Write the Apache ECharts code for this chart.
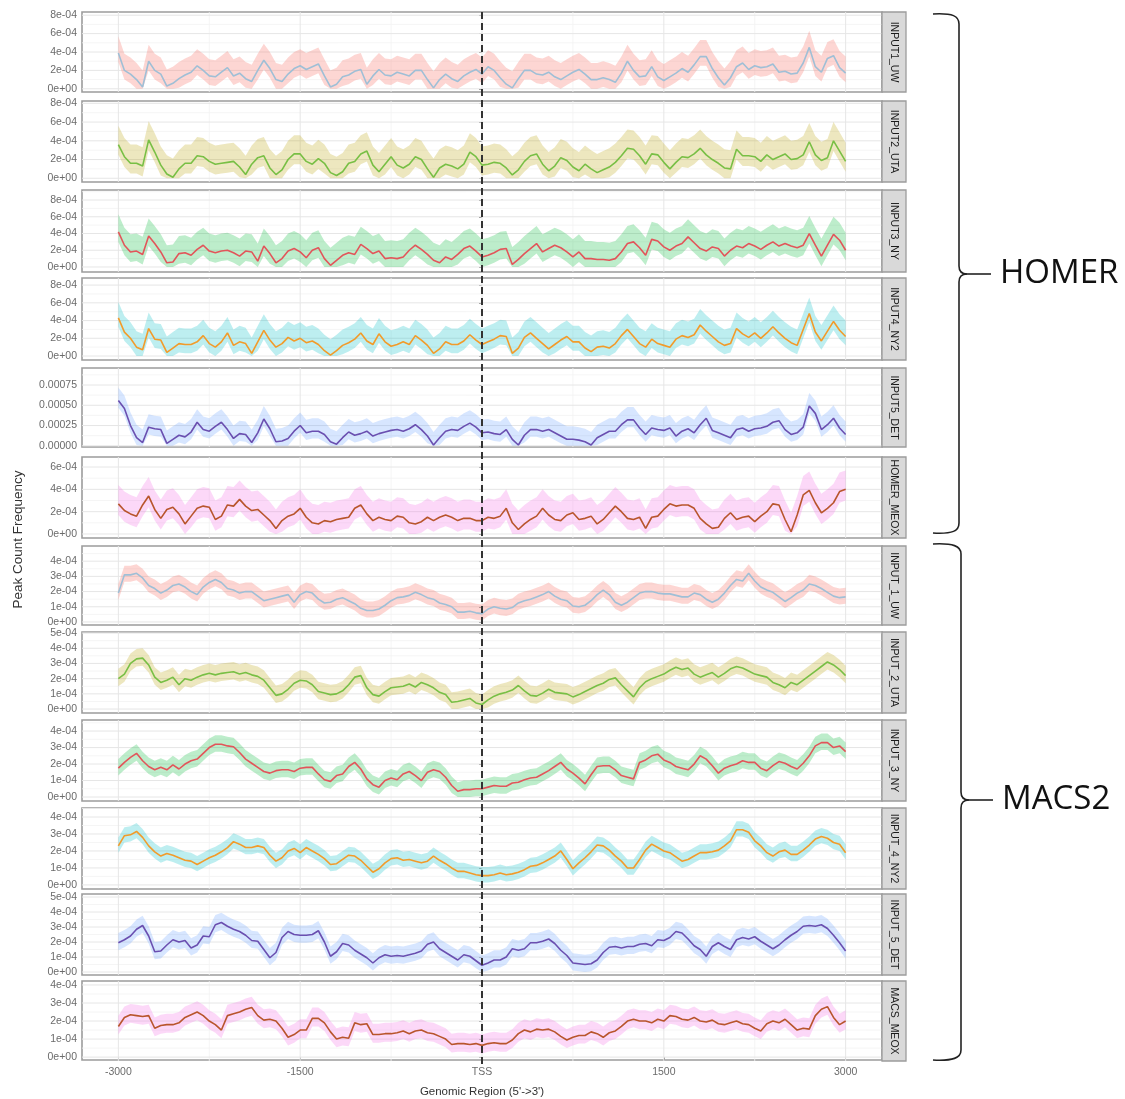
<!DOCTYPE html>
<html>
<head>
<meta charset="utf-8">
<script src="https://cdn.jsdelivr.net/npm/echarts@6/dist/echarts.min.js"></script>
<style>
  html, body { margin: 0; padding: 0; background: #fff; }
  #chart { width: 1125px; height: 1099px; }
</style>
</head>
<body>
<div id="chart"></div>
<script>
// Peak count frequency profiles around the TSS (values in units of 1e-4)
const UNIT = 1e-4;

// bin centres, -3000 .. 3000 bp every 50 bp
const positions = Array.from({ length: 121 }, (_, i) => -3000 + 50 * i);

const xTickValues = [-3000, -1500, 0, 1500, 3000];
const xMinorValues = [-2250, -750, 750, 2250];

const stripLabels = [
  'INPUT1_UW', 'INPUT2_UTA', 'INPUT3_NY', 'INPUT4_NY2', 'INPUT5_DET', 'HOMER_MEOX',
  'INPUT_1_UW', 'INPUT_2_UTA', 'INPUT_3_NY', 'INPUT_4_NY2', 'INPUT_5_DET', 'MACS_MEOX'
];

// ---- HOMER peaks ----
const homerUW = [
  3.9,2.0,1.6,1.0,0.2,3.0,2.0,1.6,0.3,0.6, 1.1,1.5,1.8,2.5,2.0,1.4,1.3,1.8,2.3,1.4,
  1.7,1.1,0.8,2.0,3.1,2.2,1.0,0.8,1.6,2.2, 2.5,2.1,2.4,2.7,1.4,0.2,0.5,1.3,1.5,1.9,
  2.1,0.5,1.4,2.1,1.5,1.4,1.8,1.6,1.4,2.0, 2.0,1.0,0.1,1.0,1.6,1.1,0.8,1.4,1.8,2.1,
  1.6,2.4,2.0,1.2,0.5,0.1,1.1,2.0,2.0,1.6, 1.5,1.8,1.3,1.0,1.4,1.8,2.1,1.6,1.0,1.0,
  1.2,1.0,0.7,1.7,3.0,2.0,1.3,1.4,2.4,1.3, 0.9,1.3,1.7,2.2,1.8,2.6,3.5,3.5,2.2,1.2,
  0.4,1.2,2.4,2.8,2.1,2.5,2.3,2.4,2.7,1.8, 1.9,1.6,1.7,2.8,4.5,2.4,1.8,3.3,3.6,2.3,
  1.7
];
const homerUTA = [
  3.6,2.3,1.6,1.6,1.3,4.1,2.8,1.4,0.45,0.1, 1.0,1.6,1.6,2.4,2.3,1.8,1.5,1.6,1.7,1.8,
  1.2,0.4,1.5,2.2,2.4,1.1,0.4,0.9,2.0,2.6, 2.6,1.8,1.5,2.1,1.6,0.6,0.3,0.7,1.6,1.8,
  2.6,2.9,1.4,0.7,1.5,2.3,1.4,1.1,1.5,2.3, 2.0,1.0,0.1,1.1,1.5,1.3,1.0,1.5,2.8,2.3,
  1.4,1.5,1.7,1.6,1.1,0.35,0.9,1.8,2.4,2.6, 1.5,0.8,1.3,2.2,1.9,1.2,0.8,1.5,1.0,0.6,
  0.9,1.2,1.7,2.4,3.2,3.1,2.4,1.5,2.6,2.5, 1.7,1.0,1.7,2.3,2.2,2.6,3.2,2.5,2.0,1.6,
  1.1,1.0,3.1,2.4,2.4,2.3,1.8,2.5,2.0,2.3, 2.6,2.0,2.1,2.5,3.9,2.5,1.9,2.2,4.0,2.9,
  1.8
];
const homerNY = [
  4.2,2.6,1.8,1.9,1.5,3.7,2.8,1.8,0.5,0.6, 1.6,1.7,1.4,2.1,2.6,1.9,1.7,1.9,2.0,1.7,
  1.3,1.9,1.8,0.7,2.5,1.6,0.5,1.0,1.9,2.2, 1.8,1.1,2.0,2.3,1.0,0.2,0.8,1.4,1.7,1.5,
  2.7,2.2,1.6,1.9,1.0,1.1,1.0,1.2,2.0,2.6, 2.1,1.5,0.8,0.5,1.2,0.9,1.5,2.2,2.5,1.9,
  1.2,1.4,1.7,2.1,2.2,0.3,0.9,1.6,2.2,2.8, 1.8,2.2,2.6,2.3,1.8,1.2,1.8,1.0,1.0,0.9,
  0.9,0.8,1.0,1.8,2.8,3.0,2.3,1.4,3.3,3.1, 2.4,2.0,2.5,2.8,3.6,2.9,2.2,1.9,2.4,2.2,
  1.3,2.0,2.5,2.3,2.8,2.5,2.1,2.6,3.0,2.5, 2.8,2.5,2.3,2.6,4.0,2.6,1.3,2.6,3.9,3.2,
  2.0
];
const homerNY2 = [
  4.3,2.7,2.0,1.0,0.7,3.1,1.9,1.8,0.4,0.9, 1.4,1.3,1.3,1.6,2.3,1.4,1.0,1.6,2.6,1.2,
  1.6,1.4,0.3,1.6,2.9,1.8,1.0,1.4,2.1,1.7, 2.0,1.5,1.7,1.3,0.6,0.1,0.6,1.2,1.5,1.9,
  2.6,1.7,1.3,2.5,1.6,1.1,1.3,1.6,1.3,2.3, 1.8,1.2,0.3,0.8,1.6,1.3,1.3,1.7,2.4,1.8,
  1.3,1.6,1.9,2.3,2.2,0.3,0.9,2.1,2.6,2.0, 1.4,0.8,1.3,1.8,2.2,1.6,1.6,0.9,0.5,1.0,
  1.1,0.9,1.4,2.3,3.0,2.2,1.4,1.0,1.9,1.4, 1.2,1.0,1.9,2.3,2.1,2.4,3.5,2.8,2.2,1.6,
  1.2,1.4,3.1,2.5,2.1,2.6,2.0,2.6,3.3,2.6, 2.0,1.5,1.2,3.0,4.8,2.7,1.7,2.8,3.9,2.9,
  2.2
];
const homerDET = [
  5.6,4.6,2.5,1.0,0.4,2.3,2.1,2.0,0.3,0.8, 1.3,1.1,1.7,2.9,2.0,1.8,2.4,2.9,2.0,0.9,
  1.5,1.4,0.4,1.6,3.3,2.1,0.5,0.6,0.9,1.8, 2.5,1.6,1.8,1.8,1.4,0.5,0.2,1.0,1.7,1.3,
  1.5,1.8,1.2,1.5,1.7,1.9,2.0,1.8,2.1,2.6, 2.0,1.2,0.1,1.0,1.8,2.0,1.9,2.4,2.8,2.3,
  1.6,1.7,1.5,1.4,2.0,0.8,0.1,1.3,2.0,2.0, 1.8,2.0,1.6,1.2,0.8,0.8,0.7,0.5,0.1,1.0,
  1.4,1.8,1.8,2.6,3.2,3.2,2.2,1.4,2.2,2.0, 1.9,2.2,1.2,1.8,2.1,1.6,2.6,3.4,1.9,1.6,
  1.3,1.0,2.0,2.2,1.8,2.1,2.2,2.4,2.9,3.1, 2.0,1.4,1.6,2.3,4.9,4.0,2.0,2.6,3.4,2.2,
  1.4
];
const homerMEOX = [
  2.7,2.1,1.8,1.6,2.6,3.4,2.2,1.4,2.2,2.4, 1.8,0.9,1.6,2.3,2.5,2.4,1.3,1.6,2.6,2.5,
  3.1,2.5,2.1,2.2,1.7,1.2,0.5,1.2,1.6,1.8, 2.3,1.5,1.0,0.9,1.2,1.1,1.3,1.4,1.5,2.3,
  2.6,1.8,1.2,1.5,1.3,1.2,1.6,1.5,1.0,0.9, 1.1,1.5,1.2,1.5,1.7,1.5,1.2,1.4,1.4,1.2,
  1.2,1.5,1.4,1.6,2.3,1.0,0.4,0.9,1.3,1.6, 2.3,1.7,1.3,1.2,1.7,1.9,1.3,1.4,1.6,0.9,
  1.3,1.9,2.5,2.0,1.4,1.3,1.5,0.5,1.5,1.6, 2.2,2.7,2.5,2.6,2.6,2.3,1.4,0.9,0.5,0.6,
  1.4,1.9,1.3,1.5,1.6,1.1,1.6,2.0,2.7,2.6, 1.3,0.2,1.7,3.5,3.9,2.8,1.9,2.3,2.8,3.8,
  4.0
];

// ---- MACS2 peaks ----
const macsUW = [
  1.9,3.1,3.1,3.2,2.9,2.4,2.2,1.9,2.1,2.4, 2.5,2.3,2.0,1.8,2.3,2.6,2.8,2.6,2.2,2.1,
  1.9,2.0,2.0,1.7,1.4,1.5,1.6,1.7,1.8,1.3, 1.8,2.0,1.9,1.5,1.25,1.3,1.5,1.6,1.4,1.2,
  0.9,0.75,0.75,0.85,1.1,1.4,1.6,1.65,1.75,1.95, 1.8,1.6,1.5,1.25,1.15,1.0,0.65,0.65,0.7,0.6,
  0.55,0.85,1.0,0.9,0.85,0.95,1.25,1.4,1.5,1.65, 1.8,2.0,1.7,1.5,1.4,1.05,1.0,1.1,1.4,1.8,
  2.1,1.8,1.3,1.1,1.3,1.6,1.9,2.0,2.0,1.9, 1.85,1.85,1.75,1.65,1.65,1.9,1.8,1.5,1.3,1.5,
  1.9,2.4,2.8,2.7,3.2,2.7,2.3,2.1,1.95,1.65, 1.35,1.6,1.9,2.1,2.5,2.4,2.2,1.95,1.7,1.6,
  1.65
];
const macsUTA = [
  2.0,2.3,3.0,3.3,3.35,2.9,2.1,1.75,1.9,2.1, 1.6,2.0,1.9,2.1,2.25,2.35,2.25,2.35,2.4,2.45,
  2.3,2.4,2.25,2.15,1.9,1.4,0.9,1.0,1.3,1.7, 1.9,1.85,1.6,1.15,1.05,0.95,1.0,1.2,1.6,2.1,
  2.2,1.4,0.95,0.85,1.15,1.4,1.45,1.5,1.65,1.45, 1.75,1.6,1.4,1.1,0.95,0.45,0.5,0.6,0.7,0.4,
  0.3,0.6,0.85,1.0,1.1,1.25,1.55,1.2,0.9,0.85, 1.05,1.3,1.1,1.05,1.0,0.8,0.95,1.15,1.35,1.55,
  1.7,1.95,2.05,1.6,1.2,0.8,1.4,1.8,2.0,2.15, 2.3,2.55,2.75,2.6,2.7,2.3,2.1,2.25,2.4,2.1,
  2.35,2.65,2.8,2.7,2.5,2.3,2.2,2.1,1.75,1.6, 1.4,1.75,1.6,1.9,2.2,2.5,2.8,3.1,2.9,2.6,
  2.2
];
const macsNY = [
  1.75,2.1,2.4,2.65,2.2,1.85,1.65,1.8,1.65,1.95, 1.7,2.0,2.2,2.3,2.65,3.0,3.2,3.2,3.1,3.05,
  2.7,2.3,2.05,1.8,1.55,1.45,1.6,1.65,1.65,1.55, 1.75,1.8,1.8,1.4,1.05,0.95,1.3,1.4,1.85,2.1,
  1.7,1.1,0.75,0.6,1.0,1.15,1.05,1.4,1.55,1.3, 1.0,1.5,1.65,1.55,1.2,0.7,0.35,0.45,0.45,0.5,
  0.5,0.6,0.7,0.65,0.65,0.85,0.9,1.05,1.15,1.2, 1.4,1.6,1.85,2.1,1.7,1.45,1.15,0.8,1.35,1.85,
  1.9,1.9,1.65,1.3,1.2,1.1,2.1,2.25,2.5,2.6, 2.25,2.1,1.85,1.75,1.65,2.0,2.5,2.3,1.9,1.45,
  1.75,1.9,2.0,2.2,2.1,2.1,1.75,1.6,1.9,2.15, 2.05,1.85,1.7,2.05,2.5,3.1,3.3,3.3,3.0,3.1,
  2.75
];
const macsNY2 = [
  2.3,2.9,2.95,3.15,2.8,2.3,1.95,1.7,1.85,1.75, 1.6,1.45,1.4,1.2,1.4,1.6,1.75,1.95,2.2,2.55,
  2.4,2.2,2.2,2.3,2.2,1.75,1.4,1.6,2.0,2.15, 1.9,2.2,2.0,1.8,1.55,1.2,1.25,1.5,1.75,1.7,
  1.45,1.1,0.75,0.95,1.3,1.55,1.6,1.45,1.5,1.4, 1.3,1.4,1.7,1.45,1.25,1.0,0.8,0.8,0.7,0.6,
  0.55,0.55,0.6,0.7,0.6,0.65,0.75,0.9,1.1,1.15, 1.3,1.5,1.7,2.0,1.5,0.95,1.3,1.6,1.95,2.35,
  2.3,2.05,1.7,1.4,1.0,1.0,1.5,2.05,2.4,2.2, 2.0,1.9,1.65,1.4,1.5,1.7,1.9,1.9,1.95,2.05,
  2.3,2.6,3.25,3.25,3.1,2.6,2.3,1.9,1.7,1.95, 2.05,1.8,1.8,2.05,2.35,2.7,2.85,2.75,2.5,2.4,
  1.9
];
const macsDET = [
  1.95,2.15,2.4,2.85,3.1,2.4,1.35,1.4,1.8,2.15, 2.0,2.1,1.6,1.8,2.4,2.35,3.15,3.3,3.05,2.85,
  2.7,2.45,2.1,2.05,1.5,0.95,1.3,2.3,2.7,2.5, 2.45,2.45,2.5,2.75,2.0,1.05,1.35,1.9,1.8,1.45,
  1.2,0.95,0.6,0.95,1.15,1.05,1.1,1.05,1.15,1.25, 1.4,1.85,2.0,1.55,1.3,1.05,0.8,1.15,1.05,0.75,
  0.45,0.6,0.8,0.8,1.0,1.55,1.45,1.55,1.95,1.95, 2.05,2.2,1.9,1.45,1.1,0.6,0.55,0.5,0.55,0.8,
  1.3,1.65,1.7,1.6,1.7,1.7,1.85,1.9,1.75,2.15, 2.1,2.3,2.7,2.6,2.2,1.75,1.5,1.05,1.7,1.95,
  1.7,1.5,2.15,2.3,2.2,2.35,2.05,1.8,1.55,1.8, 2.15,2.45,2.7,3.05,3.1,3.05,3.15,2.9,2.45,1.95,
  1.4
];
const macsMEOX = [
  1.7,2.2,2.35,2.3,2.25,2.3,1.6,1.75,1.8,1.8, 1.9,2.2,2.35,2.5,2.3,2.0,1.8,1.5,2.3,2.4,
  2.5,2.65,2.75,2.3,2.05,2.1,2.0,1.6,1.1,1.25, 1.5,1.5,2.15,2.15,1.9,1.4,1.0,1.1,1.05,1.9,
  1.8,1.85,1.25,1.25,1.3,1.3,1.35,1.45,1.3,1.45, 1.5,1.35,1.3,1.15,1.0,0.7,0.75,0.75,0.7,0.75,
  0.65,0.75,0.8,0.75,0.75,0.95,1.3,1.5,1.4,1.55, 1.5,1.55,1.4,1.15,0.95,1.1,1.2,1.2,1.4,1.3,
  1.1,1.35,1.45,1.7,2.0,2.1,2.0,2.0,1.9,2.1, 2.0,2.3,2.25,2.1,2.05,2.2,2.0,1.95,2.05,1.85,
  1.8,1.9,2.0,1.85,1.8,1.6,1.45,1.85,2.0,1.9, 2.1,1.8,1.5,1.6,1.55,2.3,2.65,2.8,2.2,1.8,
  2.0
];

// confidence band extent above / below the mean profile (1e-4 units)
const bandAbove = [1.8, 2.0, 2.1, 1.8, 1.6, 1.7, 0.6, 0.65, 0.55, 0.5, 0.65, 0.6];
const bandBelow = [1.0, 1.1, 1.2, 1.0, 0.9, 1.0, 0.45, 0.5, 0.45, 0.4, 0.5, 0.45];

const profiles = [homerUW, homerUTA, homerNY, homerNY2, homerDET, homerMEOX,
                  macsUW, macsUTA, macsNY, macsNY2, macsDET, macsMEOX];

const lineColors = ['#9fbfd6', '#78bf45', '#e2555a', '#f29b2a', '#6a4fb0', '#b8552c',
                    '#9fbfd6', '#78bf45', '#e2555a', '#f29b2a', '#6a4fb0', '#b8552c'];
const bandColors = ['rgba(248,118,109,0.30)', 'rgba(183,159,0,0.25)', 'rgba(0,186,56,0.26)',
                    'rgba(0,191,196,0.26)', 'rgba(97,156,255,0.25)', 'rgba(245,100,227,0.25)',
                    'rgba(248,118,109,0.30)', 'rgba(183,159,0,0.25)', 'rgba(0,186,56,0.26)',
                    'rgba(0,191,196,0.26)', 'rgba(97,156,255,0.25)', 'rgba(245,100,227,0.25)'];

// y tick values per panel
const yTicks = [[0,2,4,6,8],[0,2,4,6,8],[0,2,4,6,8],[0,2,4,6,8],[0,2.5,5,7.5],[0,2,4,6],
                [0,1,2,3,4],[0,1,2,3,4,5],[0,1,2,3,4],[0,1,2,3,4],[0,1,2,3,4,5],[0,1,2,3,4]];
const yMinorTicks = [[1,3,5,7],[1,3,5,7],[1,3,5,7,9],[1,3,5,7],[1.25,3.75,6.25,8.75],[1,3,5],
                     [0.5,1.5,2.5,3.5,4.5],[0.5,1.5,2.5,3.5,4.5],[0.5,1.5,2.5,3.5,4.5],
                     [0.5,1.5,2.5,3.5,4.5],[0.5,1.5,2.5,3.5,4.5],[0.5,1.5,2.5,3.5]];
const yLabelStyle = ['sci','sci','sci','sci','fixed','sci','sci','sci','sci','sci','sci','sci'];

// panel layout (pixels) and y extents
const layout = {
  left: 82, width: 800, stripWidth: 24,
  tops:    [12, 101, 190, 278, 368, 457, 546, 632, 720, 808, 894, 981],
  heights: [80,  81,  82,  82,  79,  81,  79,  81,  81,  81,  81,  80],
  yMin: [-0.35, -0.4, -0.6, -0.45, -0.15, -0.36, -0.2, -0.26, -0.24, -0.24, -0.2, -0.16],
  yMax: [8.35, 8.25, 9.2, 8.8, 9.6, 6.9, 5.0, 5.07, 4.67, 4.53, 5.2, 4.22]
};

const FONT = 'Liberation Sans, Arial, sans-serif';
const chart = echarts.init(document.getElementById('chart'));

const option = {
  animation: false,
  backgroundColor: '#ffffff',
  grid: [], xAxis: [], yAxis: [], series: []
};

const last = profiles.length - 1;
profiles.forEach((vals, k) => {
  option.grid.push({
    left: layout.left, width: layout.width, top: layout.tops[k], height: layout.heights[k],
    show: true, backgroundColor: 'transparent', borderColor: '#9c9c9c', borderWidth: 1.6
  });
  option.xAxis.push({
    gridIndex: k, type: 'value', min: -3300, max: 3300,
    axisLine: { show: false }, splitLine: { show: false },
    axisTick: { show: k === last, customValues: xTickValues, length: 3, lineStyle: { color: '#8a8a8a' } },
    axisLabel: {
      show: k === last, customValues: xTickValues, margin: 7,
      color: '#6b6b6b', fontSize: 10.5, fontFamily: FONT,
      formatter: v => (v === 0 ? 'TSS' : String(v))
    },
    name: k === last ? "Genomic Region (5'->3')" : '',
    nameLocation: 'middle', nameGap: 26,
    nameTextStyle: { color: '#333', fontSize: 11.5, fontFamily: FONT }
  });
  const fmt = yLabelStyle[k] === 'fixed'
    ? v => (v * UNIT).toFixed(5)
    : v => (v === 0 ? '0e+00' : v + 'e-04');
  option.yAxis.push({
    gridIndex: k, type: 'value', min: layout.yMin[k], max: layout.yMax[k],
    axisLine: { show: false }, splitLine: { show: false },
    axisTick: { show: true, customValues: yTicks[k], length: 3, lineStyle: { color: '#8a8a8a' } },
    axisLabel: {
      customValues: yTicks[k], formatter: fmt, margin: 5,
      color: '#6b6b6b', fontSize: 10.5, fontFamily: FONT
    }
  });

  const lower = vals.map(v => Math.max(0, v - bandBelow[k]));
  const upper = vals.map(v => v + bandAbove[k]);
  // confidence ribbon: one polygon through the upper edge and back along the lower edge
  option.series.push({
    type: 'custom', xAxisIndex: k, yAxisIndex: k, silent: true, z: 2,
    data: [[positions[0], lower[0]]],
    renderItem: (params, api) => {
      const pts = [];
      positions.forEach((x, i) => pts.push(api.coord([x, upper[i]])));
      for (let i = positions.length - 1; i >= 0; i--) pts.push(api.coord([positions[i], lower[i]]));
      return { type: 'polygon', shape: { points: pts }, style: { fill: bandColors[k] } };
    }
  });
  option.series.push({
    type: 'line', xAxisIndex: k, yAxisIndex: k,
    data: positions.map((x, i) => [x, vals[i]]),
    symbol: 'none', lineStyle: { color: lineColors[k], width: 1.6 }, z: 3
  });
});

chart.setOption(option);

// gridlines, facet strips, TSS marker and annotations
const g = [];
profiles.forEach((vals, k) => {
  const top = layout.tops[k], h = layout.heights[k];
  const x0 = layout.left, x1 = layout.left + layout.width;
  const vLine = (xv, color, w) => {
    const px = chart.convertToPixel({ gridIndex: k }, [xv, 0])[0];
    g.push({ type: 'line', z: 1, silent: true,
      shape: { x1: px, y1: top, x2: px, y2: top + h }, style: { stroke: color, lineWidth: w } });
  };
  const hLine = (yv, color, w) => {
    const py = chart.convertToPixel({ gridIndex: k }, [0, yv])[1];
    g.push({ type: 'line', z: 1, silent: true,
      shape: { x1: x0, y1: py, x2: x1, y2: py }, style: { stroke: color, lineWidth: w } });
  };
  xMinorValues.forEach(v => vLine(v, '#f3f3f3', 0.8));
  yMinorTicks[k].forEach(v => { if (v < layout.yMax[k]) hLine(v, '#f3f3f3', 0.8); });
  xTickValues.forEach(v => vLine(v, '#e6e6e6', 1));
  yTicks[k].forEach(v => hLine(v, '#e6e6e6', 1));

  // facet strip on the right
  g.push({ type: 'rect', z: 5, silent: true,
    shape: { x: x1, y: top, width: layout.stripWidth, height: h },
    style: { fill: '#d9d9d9', stroke: '#9c9c9c', lineWidth: 1.3 } });
  g.push({ type: 'text', z: 6, silent: true,
    x: x1 + layout.stripWidth / 2, y: top + h / 2, rotation: -Math.PI / 2,
    style: { text: stripLabels[k], fill: '#1a1a1a', fontSize: 10.5, fontFamily: FONT,
             align: 'center', verticalAlign: 'middle' } });
});

// dashed TSS line through every panel
const tssX = chart.convertToPixel({ gridIndex: 0 }, [0, 0])[0];
const panelTop = layout.tops[0];
const panelBottom = layout.tops[last] + layout.heights[last];
g.push({ type: 'line', z: 10, silent: true,
  shape: { x1: tssX, y1: panelTop, x2: tssX, y2: panelBottom + 3 },
  style: { stroke: '#333', lineWidth: 2, lineDash: [7, 4] } });

// shared y-axis title
g.push({ type: 'text', z: 6, silent: true, x: 18, y: (panelTop + panelBottom) / 2 + 3,
  rotation: Math.PI / 2,
  style: { text: 'Peak Count Frequency', fill: '#333', fontSize: 13.5, fontFamily: FONT,
           align: 'center', verticalAlign: 'middle' } });

// curly braces grouping the two peak callers
function brace(xl, xv, yt, ym, yb, label) {
  const s = { stroke: '#222', lineWidth: 1.6, fill: null };
  g.push({ type: 'bezierCurve', silent: true, style: s,
    shape: { x1: xl, y1: yt, cpx1: xl + 20, cpy1: yt - 1, cpx2: xv, cpy2: yt + 2, x2: xv, y2: yt + 10 } });
  g.push({ type: 'line', silent: true, style: s, shape: { x1: xv, y1: yt + 10, x2: xv, y2: ym - 8 } });
  g.push({ type: 'bezierCurve', silent: true, style: s,
    shape: { x1: xv, y1: ym - 8, cpx1: xv, cpy1: ym - 2, cpx2: xv + 3, cpy2: ym, x2: xv + 8, y2: ym } });
  g.push({ type: 'bezierCurve', silent: true, style: s,
    shape: { x1: xv + 8, y1: ym, cpx1: xv + 3, cpy1: ym, cpx2: xv, cpy2: ym + 2, x2: xv, y2: ym + 8 } });
  g.push({ type: 'line', silent: true, style: s, shape: { x1: xv, y1: ym + 8, x2: xv, y2: yb - 10 } });
  g.push({ type: 'bezierCurve', silent: true, style: s,
    shape: { x1: xv, y1: yb - 10, cpx1: xv, cpy1: yb - 2, cpx2: xl + 20, cpy2: yb + 1, x2: xl, y2: yb } });
  g.push({ type: 'line', silent: true, style: s, shape: { x1: xv + 8, y1: ym, x2: xv + 32, y2: ym } });
  g.push({ type: 'text', silent: true, x: xv + 41, y: ym,
    style: { text: label, fill: '#111', fontSize: 33, fontFamily: 'Open Sans, sans-serif',
             align: 'left', verticalAlign: 'middle' } });
}
brace(933, 959, 14, 274, 533, 'HOMER');
brace(933, 961, 544, 800, 1060, 'MACS2');

chart.setOption({ graphic: g });
</script>
</body>
</html>
